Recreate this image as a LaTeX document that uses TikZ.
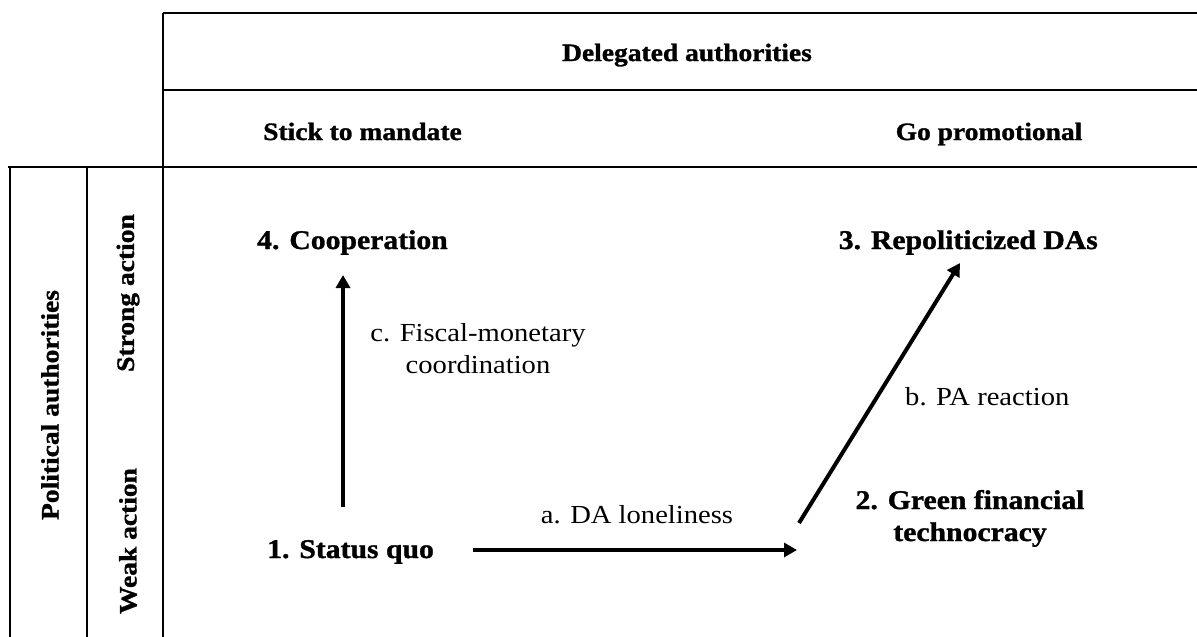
\documentclass[tikz,border=0pt]{standalone}
\usepackage{fontspec}
\setmainfont[FakeStretch=1.1, BoldFeatures={FakeBold=1.2}]{Liberation Serif}
\usetikzlibrary{arrows.meta}
\tikzset{
  grid/.style={line width=1.3pt, black},
  hdr/.style={font=\fontsize{25}{30}\selectfont\bfseries, inner sep=0pt},
  state/.style={font=\fontsize{27}{32}\selectfont\bfseries, inner sep=0pt},
  lbl/.style={font=\fontsize{26}{32}\selectfont, inner sep=0pt},
  flow/.style={line width=4pt, -{Triangle[length=13pt,width=14pt]}},
}
\begin{document}
\begin{tikzpicture}[x=1pt,y=-1pt]
\useasboundingbox (0,0) rectangle (1197,637);
% table lines
\draw[grid] (163,13) -- (1197,13);
\draw[grid] (163,90) -- (1197,90);
\draw[grid] (8,167) -- (1197,167);
\draw[grid] (163,13) -- (163,637);
\draw[grid] (10,167) -- (10,637);
\draw[grid] (87,167) -- (87,637);
% headers
\node[hdr, anchor=base] (del) at (687,61) {Delegated authorities};
\node[hdr, anchor=base west] (stick) at (263,140) {Stick to mandate};
\node[hdr, anchor=base] (promo) at (989,140) {Go promotional};
\node[hdr, rotate=90, anchor=center] (pol) at (50,405) {Political authorities};
\node[hdr, rotate=90, anchor=center] (strong) at (128,293) {Strong action};
\node[hdr, rotate=90, anchor=center] (weak) at (128,541) {Weak action};
% states
\node[state, anchor=base west] (s4) at (257,249) {4. Cooperation};
\node[state, anchor=base east] (s3) at (1098,249) {3. Repoliticized DAs};
\node[state, anchor=base west] (s1) at (267,558) {1. Status quo};
\node[state, anchor=base, align=center] (s2) at (970,541) {2. Green financial\\technocracy};
% arrow ends
\coordinate (cS) at (343,507);
\coordinate (cE) at (343,275);
\coordinate (aS) at (473,550);
\coordinate (aE) at (797,550);
\coordinate (bS) at (799,523);
\coordinate (bE) at (960,263);
\draw[flow] (cS) -- (cE);
\draw[flow] (aS) -- (aE);
\draw[flow] (bS) -- (bE);
% labels
\node[lbl, anchor=base, align=center] (lc) at (478,373) {c. Fiscal-monetary\\coordination};
\node[lbl, anchor=base west] (lb) at (905,405) {b. PA reaction};
\node[lbl, anchor=base] (la) at (637,523) {a. DA loneliness};
\end{tikzpicture}
\end{document}
